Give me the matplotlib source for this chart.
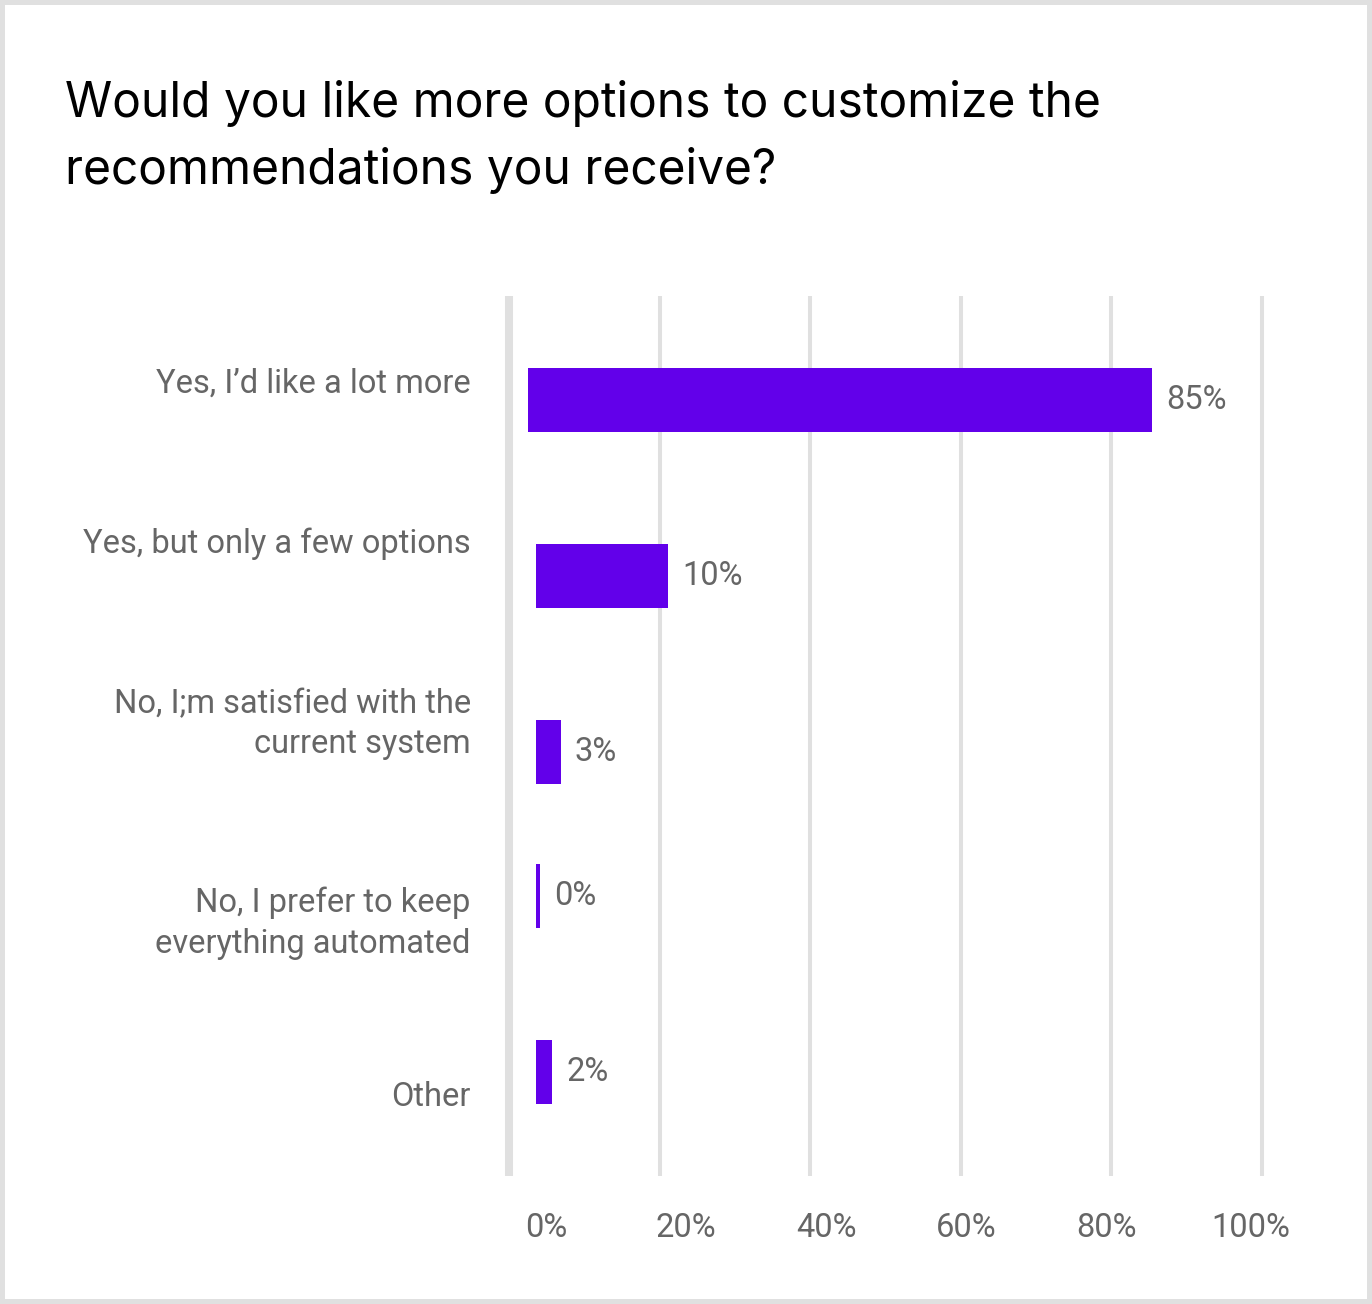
import matplotlib
matplotlib.use("Agg")
import matplotlib.pyplot as plt
import numpy as np

# survey answers, top to bottom
answers = [
    "Yes, I\u2019d like a lot more",
    "Yes, but only a few options",
    "No, I;m satisfied with the\ncurrent system",
    "No, I prefer to keep\neverything automated",
    "Other",
]
value_labels = ["85%", "10%", "3%", "0%", "2%"]
bar_start = [2.5, 3.6, 3.6, 3.6, 3.6]
bar_end = [85.4, 21.1, 6.9, 4.1, 5.75]
grid_ticks = [0, 20, 40, 60, 80, 100]
tick_text = ["0%", "20%", "40%", "60%", "80%", "100%"]

# layout tweaks (the drawn chart is a little off-grid)
bar_shift = [0.09, 0.09, 0.09, -0.09, -0.09]
label_shift = [-0.02, -0.115, -0.11, 0.02, 0.03]
tick_label_at = [4.9, 23.5, 42.1, 60.7, 79.3, 98.5]

PURPLE = "#6200EA"
GREY_TXT = "#666666"
GRID = "#e0e0e0"
FS = 23.5
W, H = 1372, 1304

fig = plt.figure(figsize=(W / 100, H / 100), dpi=100)
fig.patch.set_facecolor("white")
fig.patch.set_edgecolor(GRID)
fig.patch.set_linewidth(5.8)

ax = fig.add_axes([500 / W, 1 - 1176 / H, 771 / W, 880 / H])
ax.set_xlim(-1.2, 101.2)
ax.set_ylim(len(answers) - 0.5, -0.5)

for s in ax.spines.values():
    s.set_visible(False)

# gridlines
for g in grid_ticks[1:]:
    ax.axvline(g, color=GRID, lw=2.9, zorder=0)
ax.axvline(0, color=GRID, lw=5.8, zorder=0)

y = np.arange(len(answers)) + np.array(bar_shift)
widths = np.array(bar_end) - np.array(bar_start)
ax.barh(y, widths, left=bar_start, height=0.364, color=PURPLE, zorder=2)

for yi, xe, lab in zip(y, bar_end, value_labels):
    ax.annotate(lab, (xe, yi), xytext=(14, 0), textcoords="offset pixels",
                ha="left", va="center", fontsize=FS, color=GREY_TXT,
                family="Roboto")

ax.set_yticks(np.arange(len(answers)) + np.array(label_shift))
ax.set_yticklabels(answers, fontsize=FS, color=GREY_TXT, family="Roboto",
                   linespacing=1.33)
for t in ax.get_yticklabels():
    t.set_horizontalalignment("right")
ax.tick_params(axis="y", length=0, pad=21)

ax.set_xticks(grid_ticks)
ax.set_xticklabels([])
ax.set_xticks(tick_label_at, minor=True)
ax.set_xticklabels(tick_text, minor=True, fontsize=FS, color=GREY_TXT,
                   family="Roboto")
ax.tick_params(axis="x", which="both", length=0)
ax.tick_params(axis="x", which="minor", pad=26)

fig.text(65 / W, 1 - 117 / H, "Would you like more options to customize the",
         fontsize=34.5, family="Inter", color="#000000", va="baseline")
fig.text(65 / W, 1 - 184 / H, "recommendations you receive?",
         fontsize=34.5, family="Inter", color="#000000", va="baseline")

fig.savefig("out.png", dpi=100, facecolor=fig.get_facecolor(),
            edgecolor=fig.get_edgecolor())
